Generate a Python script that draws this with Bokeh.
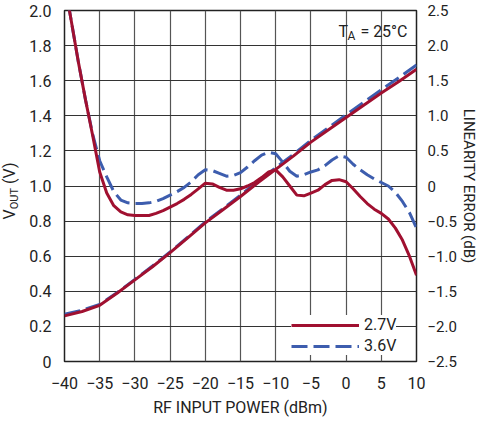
import math
from bokeh.plotting import figure
from bokeh.models import Range1d, LinearAxis, FixedTicker, Label, Legend, LegendItem, Div
from bokeh.layouts import row
from bokeh.embed import file_html
from bokeh.resources import INLINE

# ---- data ----
x_vout = [-40, -37.5, -35, -32.5, -30, -27.5, -25, -22.5, -20, -17.5, -15, -12.5,
          -10, -7.5, -5, -2.5, 0, 2.5, 5, 7.5, 10]
vout_27 = [0.26, 0.285, 0.32, 0.39, 0.465, 0.54, 0.62, 0.705, 0.79, 0.865, 0.94, 1.02,
           1.095, 1.17, 1.25, 1.32, 1.39, 1.46, 1.53, 1.595, 1.665]
vout_36 = [0.27, 0.292, 0.325, 0.393, 0.468, 0.544, 0.624, 0.709, 0.795, 0.871, 0.947, 1.028,
           1.104, 1.18, 1.26, 1.333, 1.405, 1.477, 1.548, 1.618, 1.69]

x_err = list(range(-40, 11))
err_27 = [2.90, 2.33, 1.75, 1.22, 0.72, 0.20, -0.10, -0.28, -0.37, -0.41, -0.42, -0.42,
          -0.42, -0.39, -0.35, -0.30, -0.25, -0.19, -0.12, -0.04, 0.04, 0.03, -0.02,
          -0.06, -0.06, -0.04, 0.00, 0.05, 0.12, 0.20, 0.23, 0.13, 0.00, -0.13, -0.14,
          -0.10, -0.06, 0.02, 0.08, 0.09, 0.06, -0.04, -0.15, -0.25, -0.33, -0.39,
          -0.47, -0.60, -0.77, -1.00, -1.27]
err_36 = [2.90, 2.33, 1.75, 1.22, 0.74, 0.36, 0.13, -0.08, -0.20, -0.24, -0.25, -0.25,
          -0.24, -0.22, -0.18, -0.13, -0.08, -0.02, 0.06, 0.16, 0.23, 0.22, 0.18, 0.14,
          0.15, 0.19, 0.27, 0.36, 0.44, 0.48, 0.46, 0.34, 0.21, 0.14, 0.16, 0.20, 0.23,
          0.29, 0.37, 0.43, 0.41, 0.31, 0.23, 0.16, 0.10, 0.05, 0.00, -0.09, -0.22,
          -0.38, -0.60]

x_ticks = [-40, -35, -30, -25, -20, -15, -10, -5, 0, 5, 10]
x_tick_labels = ["\u221240", "\u221235", "\u221230", "\u221225", "\u221220", "\u221215",
                 "\u221210", "\u22125", "0", "5", "10"]
yl_ticks = [0, 0.2, 0.4, 0.6, 0.8, 1.0, 1.2, 1.4, 1.6, 1.8, 2.0]
yl_labels = ["0", "0.2", "0.4", "0.6", "0.8", "1.0", "1.2", "1.4", "1.6", "1.8", "2.0"]
yr_ticks = [-2.5, -2.0, -1.5, -1.0, -0.5, 0, 0.5, 1.0, 1.5, 2.0, 2.5]
yr_labels = ["\u22122.5", "\u22122.0", "\u22121.5", "\u22121.0", "\u22120.5", "0",
             "0.5", "1.0", "1.5", "2.0", "2.5"]

RED = "#A01030"
BLUE = "#3D5DAE"
FONT = "Roboto"
TXT = "#222222"

p = figure(frame_width=352, frame_height=351,
           x_range=Range1d(-40, 10), y_range=Range1d(0, 2.0),
           output_backend="svg", toolbar_location=None,
           min_border_left=34, min_border_right=64, min_border_top=10, min_border_bottom=50)
p.extra_y_ranges = {"err": Range1d(-2.5, 2.5)}

p.outline_line_color = "#222222"
p.outline_line_width = 1.5
p.background_fill_color = "white"
p.border_fill_color = "white"

for ax in [p.xaxis[0], p.yaxis[0]]:
    ax.axis_line_color = None
    ax.major_tick_line_color = None
    ax.minor_tick_line_color = None
    ax.major_label_text_font = FONT
    ax.major_label_text_font_size = "16px"
    ax.major_label_text_color = TXT

p.xaxis.ticker = FixedTicker(ticks=x_ticks)
p.xaxis.major_label_overrides = {t: l for t, l in zip(x_ticks, x_tick_labels)}
p.xaxis.major_label_standoff = 9
p.xaxis.axis_label = "RF INPUT POWER (dBm)"
p.xaxis.axis_label_text_font = FONT
p.xaxis.axis_label_text_font_size = "16px"
p.xaxis.axis_label_text_font_style = "normal"
p.xaxis.axis_label_text_color = TXT
p.xaxis.axis_label_standoff = 6

p.yaxis.ticker = FixedTicker(ticks=yl_ticks)
p.yaxis.major_label_overrides = {t: l for t, l in zip(yl_ticks, yl_labels)}
p.yaxis.major_label_standoff = 7

rax = LinearAxis(y_range_name="err", ticker=FixedTicker(ticks=yr_ticks))
rax.major_label_overrides = {t: l for t, l in zip(yr_ticks, yr_labels)}
rax.axis_line_color = None
rax.major_tick_line_color = None
rax.minor_tick_line_color = None
rax.major_label_text_font = FONT
rax.major_label_text_font_size = "15px"
rax.major_label_text_color = TXT
rax.major_label_standoff = 5
rax.axis_label = "LINEARITY ERROR (dB)"
rax.axis_label_text_font = FONT
rax.axis_label_text_font_size = "15px"
rax.axis_label_text_font_style = "normal"
rax.axis_label_text_color = TXT
rax.axis_label_standoff = 0
p.add_layout(rax, "right")

p.xgrid.ticker = FixedTicker(ticks=x_ticks)
p.ygrid.ticker = FixedTicker(ticks=yl_ticks)
p.xgrid.grid_line_color = "#555555"
p.ygrid.grid_line_color = "#333333"
p.xgrid.grid_line_width = 1.2
p.ygrid.grid_line_width = 1.2

r36v = p.line(x_vout, vout_36, line_color=BLUE, line_width=3, line_dash="16 6")
r27v = p.line(x_vout, vout_27, line_color=RED, line_width=3)
r36e = p.line(x_err, err_36, y_range_name="err", line_color=BLUE, line_width=3, line_dash="16 6")
r27e = p.line(x_err, err_27, y_range_name="err", line_color=RED, line_width=3)

legend = Legend(items=[LegendItem(label="2.7V", renderers=[r27e]),
                       LegendItem(label="3.6V", renderers=[r36e])],
                location=(227, 6))
legend.border_line_color = None
legend.background_fill_color = "white"
legend.background_fill_alpha = 1.0
legend.label_text_font = FONT
legend.label_text_font_size = "16px"
legend.label_text_color = TXT
legend.glyph_width = 68
legend.glyph_height = 18
legend.label_height = 18
legend.label_standoff = 5
legend.spacing = 2
legend.padding = 4
legend.margin = 0
p.add_layout(legend, "center")

# T_A = 25°C (inside the frame, data coordinates derived from pixel estimate)
def dx(px):
    return -40 + (px - 64) / 7.04

def dy(py):
    return (363 - py) / 175.5

p.add_layout(Label(x=dx(407), y=dy(33), text="= 25°C", text_align="right",
                   text_baseline="alphabetic", text_font=FONT, text_font_size="16px", text_color=TXT))
p.add_layout(Label(x=dx(347), y=dy(37), text="A", text_align="left",
                   text_baseline="alphabetic", text_font=FONT, text_font_size="12px", text_color=TXT))
p.add_layout(Label(x=dx(338), y=dy(33), text="T", text_align="left",
                   text_baseline="alphabetic", text_font=FONT, text_font_size="16px", text_color=TXT))

# left axis title with subscript, as HTML text
ylabel_html = (
    '<div style="width:16px;height:351px;margin-top:10px;display:flex;'
    'align-items:center;justify-content:center;overflow:visible;">'
    '<span style="display:inline-block;transform:translateX(-2px) rotate(-90deg);white-space:nowrap;'
    f'font-family:\'{FONT}\';font-size:16px;color:{TXT};line-height:1;">'
    'V<sub style="font-size:11px;vertical-align:-3px;">OUT</sub> (V)</span></div>'
)
ydiv = Div(text=ylabel_html, width=16, height=411, styles={"overflow": "visible"})

layout = row(ydiv, p, spacing=0)
open("out.html", "w").write(file_html(layout, INLINE))
